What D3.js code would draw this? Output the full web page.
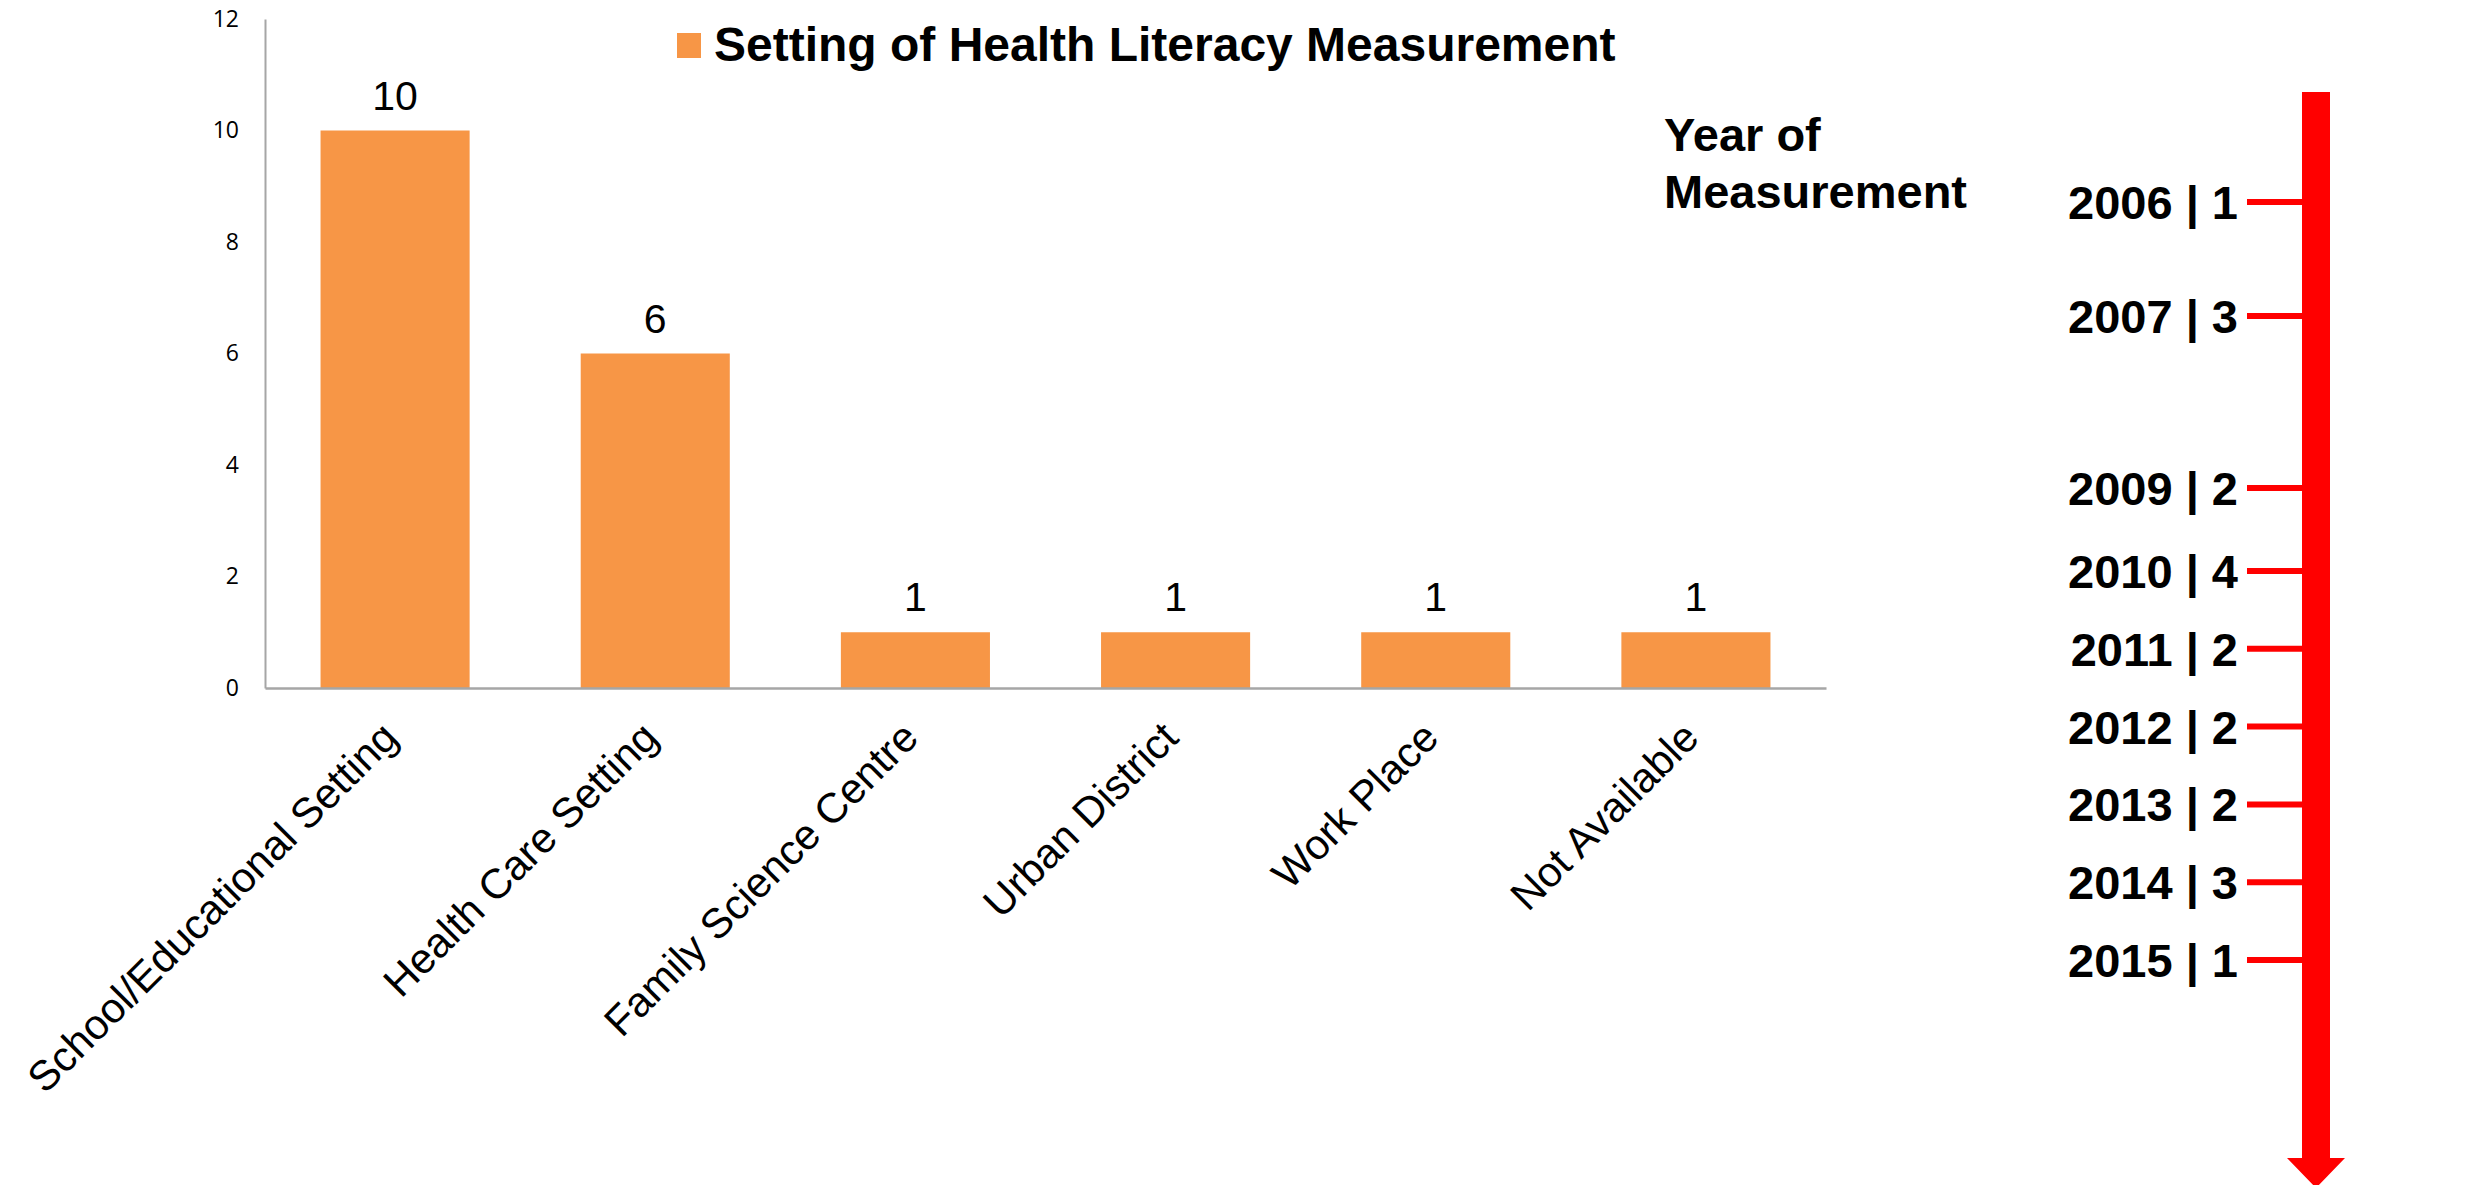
<!DOCTYPE html>
<html>
<head>
<meta charset="utf-8">
<script src="https://cdn.jsdelivr.net/npm/d3@7/dist/d3.min.js"></script>
<style>
  html, body { margin: 0; padding: 0; background: #ffffff; }
  svg { display: block; }
</style>
</head>
<body>
<svg id="chart" width="2475" height="1185"></svg>
<script>
// Setting of health literacy measurement (number of studies)
const settings = [
  "School/Educational Setting",
  "Health Care Setting",
  "Family Science Centre",
  "Urban District",
  "Work Place",
  "Not Available"
];
const settingCounts = [10, 6, 1, 1, 1, 1];
const yTicks = [0, 2, 4, 6, 8, 10, 12];

// Year of measurement (number of studies per year)
const years = [2006, 2007, 2009, 2010, 2011, 2012, 2013, 2014, 2015];
const yearCounts = [1, 3, 2, 4, 2, 2, 2, 3, 1];

const legendTitle = "Setting of Health Literacy Measurement";
const timelineTitle = ["Year of", "Measurement"];

const svg = d3.select("#chart");
const W = 2475, H = 1185;
svg.append("rect").attr("width", W).attr("height", H).attr("fill", "#ffffff");

const ORANGE = "#F79646";
const AXIS_GREY = "#a6a6a6";
const RED = "#ff0000";

// ---------- bar chart ----------
const plot = { left: 265, right: 1826, top: 19, bottom: 688 };

const x = d3.scaleBand()
  .domain(settings)
  .range([plot.left, plot.right])
  .paddingInner(0.427)
  .paddingOuter(0.2135);

const y = d3.scaleLinear()
  .domain([0, 12])
  .range([plot.bottom, plot.top]);

// bars
svg.append("g")
  .selectAll("rect")
  .data(settings)
  .join("rect")
  .attr("x", d => x(d))
  .attr("y", (d, i) => y(settingCounts[i]))
  .attr("width", x.bandwidth())
  .attr("height", (d, i) => y(0) - y(settingCounts[i]))
  .attr("fill", ORANGE);

// value labels
svg.append("g")
  .selectAll("text")
  .data(settings)
  .join("text")
  .attr("x", d => x(d) + x.bandwidth() / 2)
  .attr("y", (d, i) => y(settingCounts[i]) - 21)
  .attr("text-anchor", "middle")
  .attr("font-family", "'Liberation Sans', Arial, sans-serif")
  .attr("font-size", 41)
  .attr("fill", "#000")
  .text((d, i) => settingCounts[i]);

// y axis
const yAxis = svg.append("g")
  .attr("transform", `translate(${plot.left},0)`)
  .call(d3.axisLeft(y).tickValues(yTicks).tickSize(0).tickPadding(26).tickSizeOuter(0));
yAxis.select(".domain").attr("stroke", AXIS_GREY).attr("stroke-width", 2);
yAxis.selectAll("text")
  .attr("font-family", "'Open Sans', 'Noto Sans', sans-serif")
  .attr("font-size", 23)
  .attr("fill", "#000");

// x axis
const xAxis = svg.append("g")
  .attr("transform", `translate(0,${plot.bottom})`)
  .call(d3.axisBottom(x).tickSize(0).tickSizeOuter(0));
xAxis.select(".domain").attr("stroke", AXIS_GREY).attr("stroke-width", 2.5);
xAxis.selectAll(".tick text")
  .attr("font-family", "'Liberation Sans', Arial, sans-serif")
  .attr("font-size", 42)
  .attr("fill", "#000")
  .attr("text-anchor", "end")
  .attr("dy", 0)
  .attr("y", 0)
  .attr("transform", "translate(5,52) rotate(-45)");

// legend
const legend = svg.append("g");
legend.append("rect")
  .attr("x", 677).attr("y", 33)
  .attr("width", 24).attr("height", 25)
  .attr("fill", ORANGE);
legend.append("text")
  .attr("x", 714).attr("y", 61)
  .attr("font-family", "'Liberation Sans', Arial, sans-serif")
  .attr("font-weight", "bold")
  .attr("font-size", 48)
  .attr("fill", "#000")
  .text(legendTitle);

// ---------- timeline ----------
const timelineTop = 92, shaftEnd = 1158, arrowTip = 1188;
const axisX = 2316, shaftW = 28, headHalf = 29;

// spacing of the year marks along the arrow
const yearY = d3.scaleLinear()
  .domain([2006, 2007, 2009, 2010, 2015])
  .range([202, 316, 488, 571, 960]);

const tl = svg.append("g");
tl.append("text")
  .attr("font-family", "'Liberation Sans', Arial, sans-serif")
  .attr("font-weight", "bold")
  .attr("font-size", 47)
  .attr("fill", "#000")
  .selectAll("tspan")
  .data(timelineTitle)
  .join("tspan")
  .attr("x", 1664)
  .attr("y", (d, i) => 151 + i * 57)
  .text(d => d);

// arrow shaft + head
const arrow = d3.path();
arrow.moveTo(axisX - shaftW / 2, timelineTop);
arrow.lineTo(axisX + shaftW / 2, timelineTop);
arrow.lineTo(axisX + shaftW / 2, shaftEnd);
arrow.lineTo(axisX + headHalf, shaftEnd);
arrow.lineTo(axisX, arrowTip);
arrow.lineTo(axisX - headHalf, shaftEnd);
arrow.lineTo(axisX - shaftW / 2, shaftEnd);
arrow.closePath();
tl.append("path").attr("d", arrow.toString()).attr("fill", RED);

// year ticks
tl.append("g")
  .selectAll("line")
  .data(years)
  .join("line")
  .attr("x1", 2247)
  .attr("x2", axisX)
  .attr("y1", d => yearY(d))
  .attr("y2", d => yearY(d))
  .attr("stroke", RED)
  .attr("stroke-width", 6);

// year labels
tl.append("g")
  .selectAll("text")
  .data(years)
  .join("text")
  .attr("x", 2238)
  .attr("y", d => yearY(d) + 17)
  .attr("text-anchor", "end")
  .attr("font-family", "'Liberation Sans', Arial, sans-serif")
  .attr("font-weight", "bold")
  .attr("font-size", 47)
  .attr("fill", "#000")
  .text((d, i) => `${d} | ${yearCounts[i]}`);
</script>
</body>
</html>
